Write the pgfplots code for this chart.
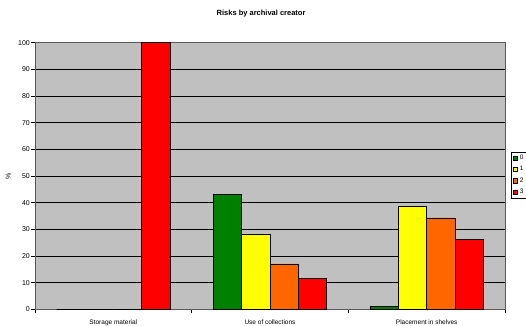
\documentclass[border=0pt]{standalone}
\usepackage{pgfplots}
\pgfplotsset{compat=1.18}
\usepackage{fontspec}
\setmainfont{Liberation Sans}
\definecolor{bg}{HTML}{C0C0C0}
\definecolor{cgreen}{HTML}{008000}
\definecolor{cyellow}{HTML}{FFFF00}
\definecolor{corange}{HTML}{FF6600}
\definecolor{cred}{HTML}{FF0000}
\begin{document}
\begin{tikzpicture}
\path[use as bounding box] (0pt,0pt) rectangle (526pt,325pt);
\begin{axis}[
  at={(35pt,15.7pt)}, anchor=south west,
  scale only axis, width=470pt, height=266.6pt,
  ybar=0pt, bar width=28.35pt,
  xmin=-0.5, xmax=2.5, ymin=0, ymax=100,
  xtick={0,1,2},
  xticklabels={Storage material, Use of collections, Placement in shelves},
  minor xtick={-0.5,0.5,1.5,2.5},
  ytick={0,10,...,100},
  ymajorgrids,
  major grid style={black, line width=0.5pt},
  axis background/.style={fill=bg},
  axis line style={draw=black!65, line width=0.8pt},
  tick align=outside,
  major tick length=4pt, minor tick length=4pt,
  major x tick style={draw=none},
  tick style={black, line width=0.5pt},
  xtick pos=bottom, ytick pos=left,
  /pgf/number format/assume math mode=true,
  yticklabel style={font=\fontsize{7}{8}\selectfont, inner sep=1pt},
  xticklabel style={font=\fontsize{6.5}{8}\selectfont, yshift=-2.5pt},
  title={Risks by archival creator},
  title style={font=\bfseries\fontsize{7.5}{9}\selectfont, at={(0.481,1)}, anchor=center, yshift=22.7pt},
  ylabel={\%},
  ylabel style={at={(axis description cs:-0.0568,0.5)}, anchor=center, font=\fontsize{7}{8}\selectfont},
  legend style={at={(1.0134,0.59)}, anchor=north west, font=\fontsize{6.5}{7}\selectfont,
    draw=black, line width=0.5pt, fill=white, inner xsep=1.5pt, inner ysep=1pt, row sep=1.2pt,
    cells={anchor=west}},
  legend image code/.code={\draw[#1,draw=black,line width=0.4pt] (0pt,-2.2pt) rectangle (4.4pt,2.2pt);},
]
\addplot[fill=cgreen, draw=black, line width=0.5pt] coordinates {(0,0) (1,43) (2,1)};
\addplot[fill=cyellow, draw=black, line width=0.5pt] coordinates {(0,0) (1,28) (2,38.5)};
\addplot[fill=corange, draw=black, line width=0.5pt] coordinates {(0,0) (1,17) (2,34.3)};
\addplot[fill=cred, draw=black, line width=0.5pt] coordinates {(0,100) (1,11.7) (2,26.2)};
\legend{0,1,2,3}
\end{axis}
\end{tikzpicture}
\end{document}
